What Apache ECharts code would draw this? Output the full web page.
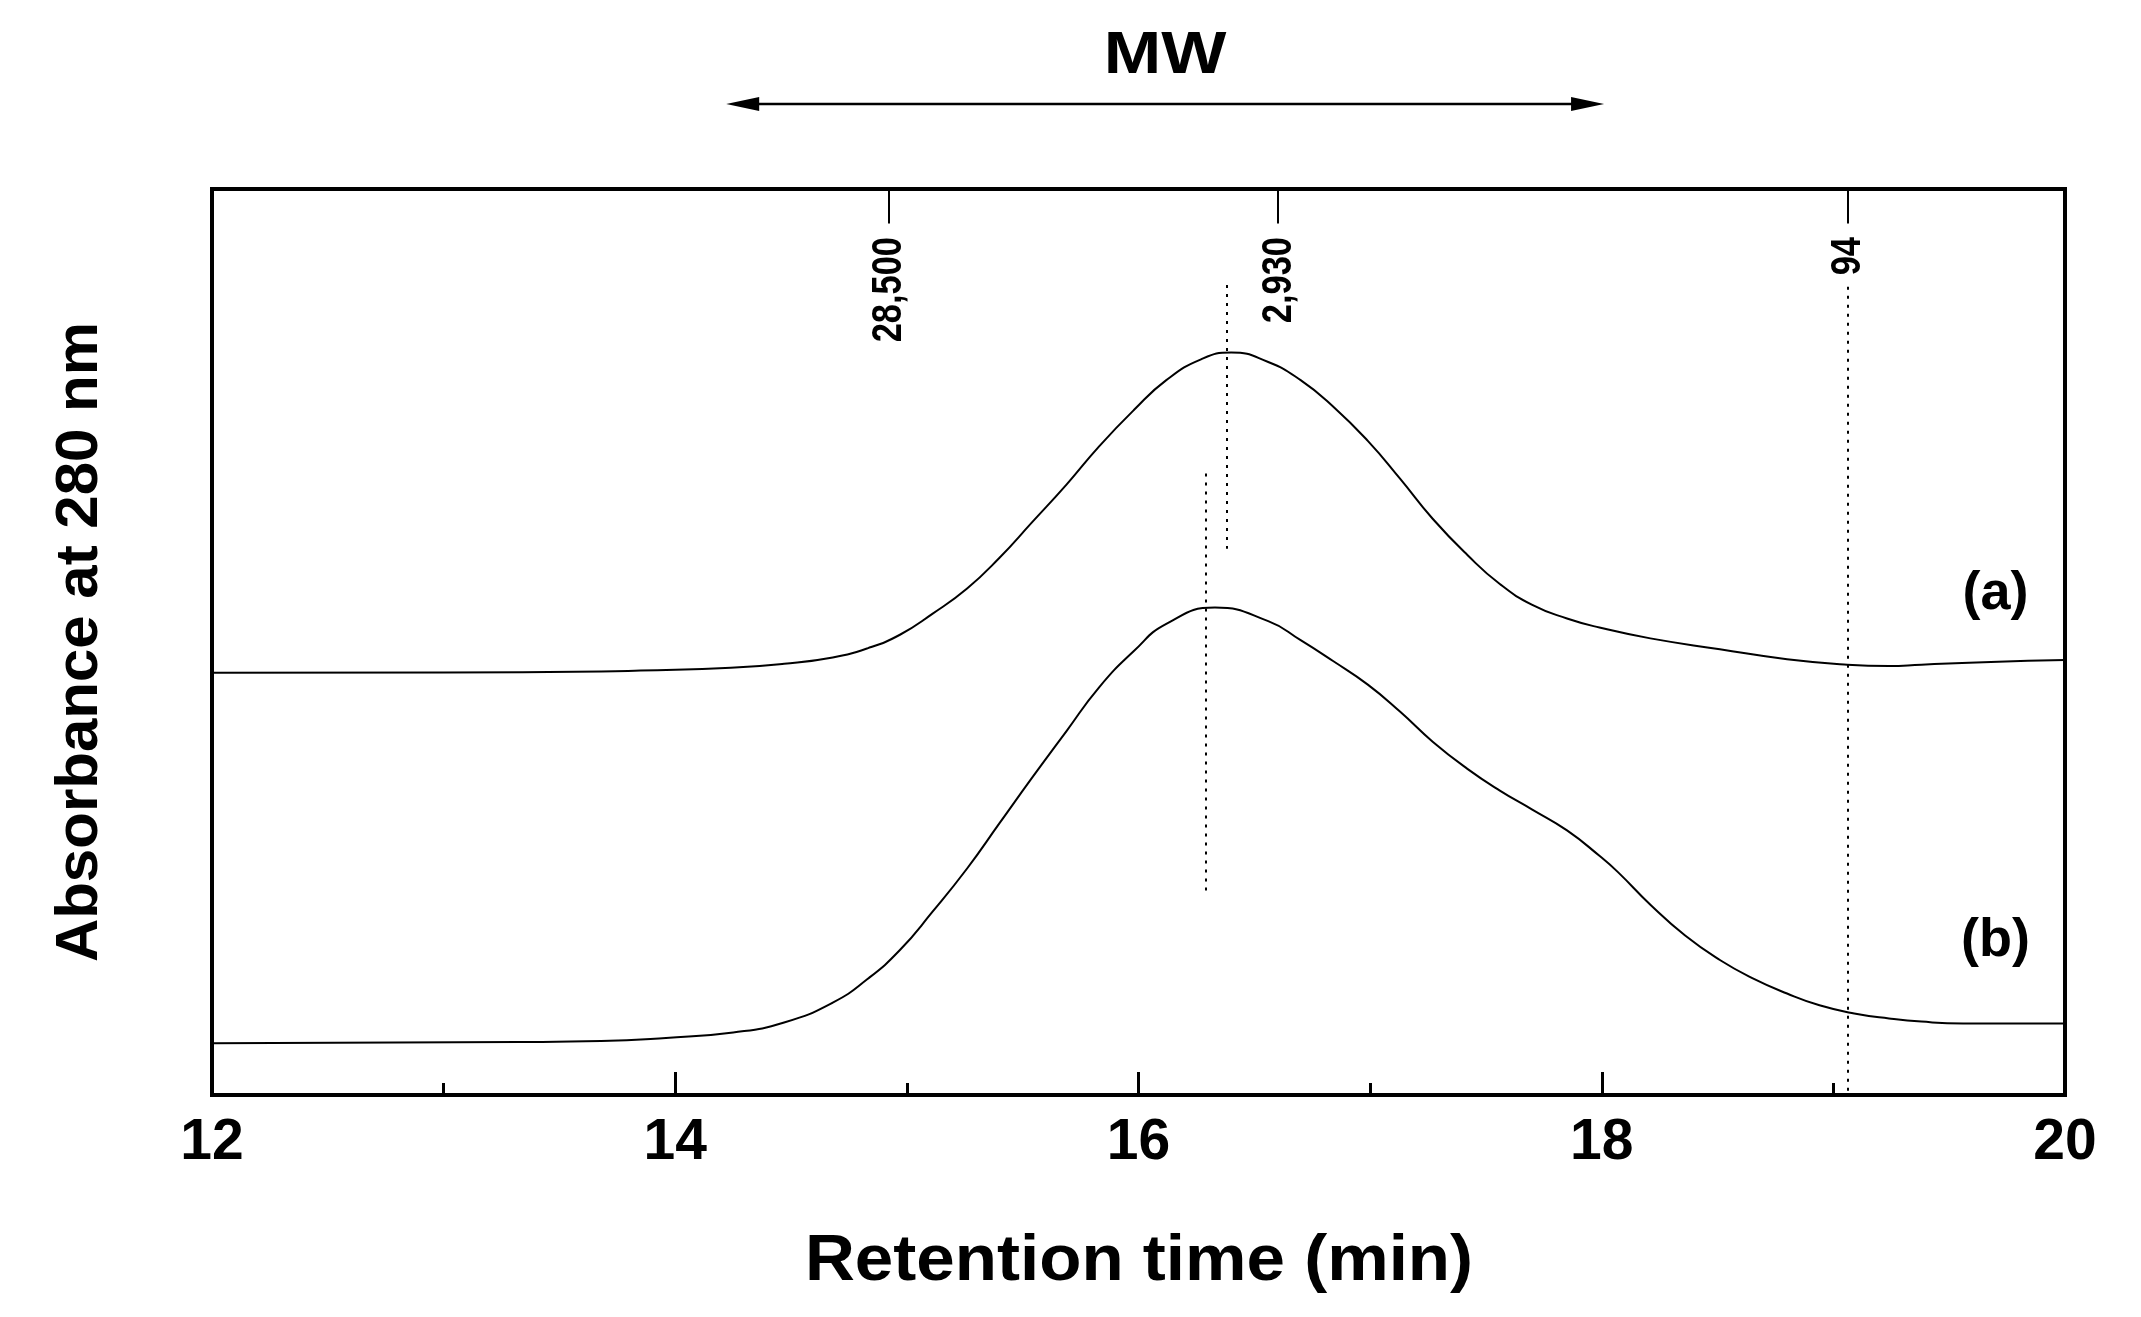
<!DOCTYPE html>
<html><head><meta charset="utf-8">
<script src="https://cdn.jsdelivr.net/npm/echarts@6/dist/echarts.min.js"></script>
<style>html,body{margin:0;padding:0;background:#fff}#c{width:2141px;height:1317px}</style>
</head><body><div id="c"></div>
<script>
// ---- data (retention time in min, absorbance in arbitrary units 0-100) ----
const timeA = [12.00, 13.00, 13.68, 13.85, 14.24, 14.47, 14.68, 14.83, 14.97, 15.11, 15.26, 15.40, 15.54, 15.69, 15.83, 15.98, 16.12, 16.27, 16.40, 16.56, 16.70, 16.84, 16.99, 17.13, 17.27, 17.42, 17.56, 17.70, 17.85, 17.99, 18.21, 18.51, 18.80, 19.06, 19.24, 19.38, 19.68, 20.00];
const absA  = [46.6, 46.62, 46.75, 46.85, 47.15, 47.6, 48.3, 49.3, 50.8, 53.1, 55.9, 59.3, 63.2, 67.4, 71.6, 75.6, 78.9, 81.2, 81.95, 80.9, 78.9, 76.0, 72.2, 68.0, 63.6, 59.6, 56.4, 54.1, 52.6, 51.6, 50.4, 49.2, 48.1, 47.5, 47.35, 47.5, 47.8, 48.0];
const timeB = [12.00, 13.32, 13.68, 13.96, 14.25, 14.47, 14.68, 14.83, 14.97, 15.11, 15.26, 15.40, 15.54, 15.69, 15.83, 15.98, 16.12, 16.33, 16.56, 16.70, 16.84, 16.99, 17.13, 17.27, 17.42, 17.56, 17.70, 17.85, 17.99, 18.07, 18.21, 18.36, 18.51, 18.65, 18.80, 18.94, 19.09, 19.24, 19.38, 19.56, 20.00];
const absB  = [5.7, 5.85, 5.95, 6.3, 6.9, 8.0, 10.2, 12.8, 16.0, 20.2, 25.0, 30.0, 35.0, 40.2, 45.0, 49.0, 52.0, 53.8, 52.3, 50.2, 47.9, 45.3, 42.3, 39.0, 36.0, 33.6, 31.5, 29.2, 26.4, 24.6, 21.0, 17.6, 14.9, 12.9, 11.2, 9.9, 9.0, 8.45, 8.1, 7.9, 7.9];

// molecular-weight standards (marked on the top border)
const mwLabels = ['28,500', '2,930', '94'];
const mwTimes  = [14.92, 16.60, 19.06];

// dotted reference lines
const refTimes  = [16.38, 16.29, 19.06];
const refTop    = [89.4, 68.6, 89.2];
const refBottom = [60.3, 22.1, 0];

// curve labels
const curveNames = ['(a)', '(b)'];
const curveLabelTime = [19.70, 19.70];
const curveLabelAbs  = [55.3, 17.0];

// MW direction arrow range (min)
const arrowTimes = [14.22, 18.01];

const xMin = 12, xMax = 20, xInterval = 2;
const xTitle = 'Retention time (min)';
const yTitle = 'Absorbance at 280 nm';

const FONT = "'Liberation Sans', Arial, Helvetica, sans-serif";

const chart = echarts.init(document.getElementById('c'), null, {renderer: 'canvas'});

const zip = (xs, ys) => xs.map((x, i) => [x, ys[i]]);

const tickMarks = mwTimes.map(t => [{coord: [t, 100]}, {coord: [t, 96.2]}]);
const dotted = refTimes.map((t, i) => [{coord: [t, refTop[i]]}, {coord: [t, refBottom[i]]}]);

const option = {
  backgroundColor: '#fff',
  animation: false,
  grid: {left: 212, right: 76, top: 189, bottom: 222, show: true, borderColor: '#000', borderWidth: 4, containLabel: false},
  xAxis: {
    type: 'value', min: xMin, max: xMax, interval: xInterval,
    axisLine: {show: true, lineStyle: {color: '#000', width: 4}},
    axisTick: {show: true, inside: true, length: 23, lineStyle: {color: '#000', width: 3}},
    minorTick: {show: true, splitNumber: 2, length: 12, lineStyle: {color: '#000', width: 3}},
    axisLabel: {fontFamily: FONT, fontWeight: 'bold', fontSize: 57, color: '#000', margin: 20},
    splitLine: {show: false}
  },
  yAxis: {
    type: 'value', min: 0, max: 100,
    name: yTitle, nameLocation: 'middle', nameGap: 102,
    nameTextStyle: {fontFamily: FONT, fontWeight: 'bold', fontSize: 60, color: '#000'},
    axisLine: {show: false}, axisTick: {show: false}, axisLabel: {show: false}, splitLine: {show: false}
  },
  series: [
    {
      name: 'a', type: 'line', data: zip(timeA, absA), showSymbol: false, smooth: 0.5,
      lineStyle: {color: '#000', width: 2}, silent: true,
      markLine: {
        silent: true, symbol: ['none', 'none'], label: {show: false},
        lineStyle: {color: '#000', width: 2, type: 'solid'},
        data: tickMarks
      }
    },
    {
      name: 'b', type: 'line', data: zip(timeB, absB), showSymbol: false, smooth: 0.5,
      lineStyle: {color: '#000', width: 2}, silent: true,
      markLine: {
        silent: true, symbol: ['none', 'none'], label: {show: false},
        lineStyle: {color: '#000', width: 2, type: [3, 6]},
        data: dotted
      }
    },
    {
      name: 'curveLabels', type: 'scatter', symbolSize: 0, silent: true,
      itemStyle: {opacity: 1},
      data: curveLabelTime.map((t, i) => [t, curveLabelAbs[i], curveNames[i]]),
      label: {show: true, position: 'inside', formatter: p => p.data[2],
              align: 'center', verticalAlign: 'middle',
              fontFamily: FONT, fontWeight: 'bold', fontSize: 54, color: '#000'}
    }
  ]
};
chart.setOption(option);

// graphic overlays placed from the axis scale
const px = t => chart.convertToPixel({gridIndex: 0}, [t, 0])[0];
const x1 = px(arrowTimes[0]);
const x2 = px(arrowTimes[1]);
const ay = 104, headL = 33, headH = 7;
const labelTop = 237;

const graphics = [
  {type: 'line', shape: {x1: x1 + 10, y1: ay, x2: x2 - 10, y2: ay}, style: {stroke: '#000', lineWidth: 2.5}},
  {type: 'polygon', shape: {points: [[x1, ay], [x1 + headL, ay - headH], [x1 + headL, ay + headH]]}, style: {fill: '#000'}},
  {type: 'polygon', shape: {points: [[x2, ay], [x2 - headL, ay - headH], [x2 - headL, ay + headH]]}, style: {fill: '#000'}},
  {type: 'text', x: (x1 + x2) / 2, y: 56, scaleX: 1.15,
   style: {text: 'MW', fontFamily: FONT, fontWeight: 'bold', fontSize: 60, fill: '#000', align: 'center', verticalAlign: 'middle'}},
  {type: 'text', x: 1139, y: 1262, scaleX: 1.08,
   style: {text: xTitle, fontFamily: FONT, fontWeight: 'bold', fontSize: 64, fill: '#000', align: 'center', verticalAlign: 'middle'}}
];
mwTimes.forEach((t, i) => {
  graphics.push({
    type: 'text', x: px(t) + 1.5, y: labelTop, rotation: Math.PI / 2, scaleX: 0.82,
    style: {text: mwLabels[i], fontFamily: FONT, fontWeight: 'bold', fontSize: 42, fill: '#000', align: 'right', verticalAlign: 'middle'}
  });
});
chart.setOption({graphic: graphics});
</script>
</body></html>
